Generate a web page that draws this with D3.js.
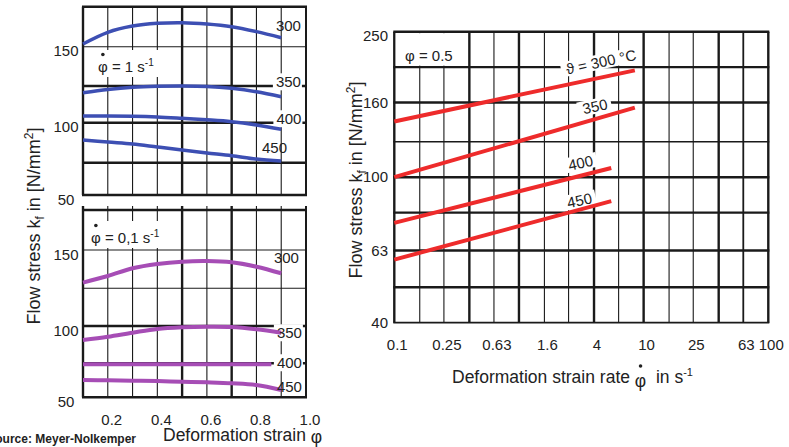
<!DOCTYPE html>
<html>
<head>
<meta charset="utf-8">
<script src="https://cdn.jsdelivr.net/npm/d3@7"></script>
<style>
  body { margin: 0; background: #fff; }
  svg { display: block; font-family: "Liberation Sans", Arial, sans-serif; }
</style>
</head>
<body>
<svg id="chart" width="789" height="447"></svg>
<script>
// ---- left panels: flow curves kf over strain phi ----
const strain = [0.1, 0.2, 0.3, 0.4, 0.5, 0.6, 0.7, 0.8, 0.9];
const strainGrid = [0.1, 0.2, 0.3, 0.4, 0.5, 0.6, 0.7, 0.8, 0.9, 1.0];
const strainLabels = [0.2, 0.4, 0.6, 0.8, 1.0];
const stressGrid = [50, 75, 100, 125, 150, 175];
const stressLabels = [50, 100, 150];
const temps = ["300", "350", "400", "450"];

// phi-dot = 1 1/s (blue)
const kfFast300 = [151.7, 159, 162.9, 164.6, 165, 164.2, 162.5, 159.4, 155.6];
const kfFast350 = [120.4, 122.6, 124.1, 124.8, 125, 124.7, 123.4, 121.1, 117.7];
const kfFast400 = [104.6, 104.6, 104.4, 103.9, 103, 102, 100.7, 98.6, 95.9];
const kfFast450 = [89.2, 87.9, 86.7, 84.8, 82.9, 81.1, 79.4, 77.3, 76.1];
const fastLabelAt = [[0.929, 162.9], [0.929, 127.5], [0.931, 102.5], [0.873, 84.2]];

// phi-dot = 0.1 1/s (purple)
const kfSlow300 = [128.7, 133, 138.1, 140.9, 142.4, 142.8, 142, 139.1, 134.8];
const kfSlow350 = [90.6, 92.8, 95.5, 98, 99.1, 99.5, 99.3, 97.8, 95.5];
const strainSlow400 = [0.1, 0.5, 0.86];
const kfSlow400 = [74.3, 74.3, 74.3];
const kfSlow450 = [62.7, 62.5, 62.2, 61.9, 61.5, 61, 60.3, 59, 55.4];
const slowLabelAt = [[0.921, 144.8], [0.933, 95.3], [0.933, 75.2], [0.933, 57.6]];

// ---- right panel: kf over strain rate at phi = 0.5 (red) ----
const rateGrid = [0.1, 0.16, 0.25, 0.4, 0.63, 1, 1.6, 2.5, 4, 6.3, 10, 16, 25, 40, 63, 100];
const rateLabels = [0.1, 0.25, 0.63, 1.6, 4, 10, 25, 63, 100];
const kfLogGrid = [40, 50, 63, 80, 100, 125, 160, 200, 250];
const kfLogLabels = [40, 63, 100, 160, 250];
const rateLine300 = [[0.1, 142], [8.5, 196]];
const rateLine350 = [[0.1, 100], [8.5, 155]];
const rateLine400 = [[0.1, 75], [5.5, 106]];
const rateLine450 = [[0.1, 59.5], [5.5, 86]];
const rateLabelText = ["\u03d1 = 300 \u00b0C", "350", "400", "450"];
const rateLabelAt = [[4.55, 206.6], [4.07, 156], [3.12, 109.4], [3.06, 86.4]];

const ink = "#222";
const gridInk = "#1a1a1a";
const svg = d3.select("#chart");

// ---------- left panels ----------
const xStrain = d3.scaleLinear().domain([0.1, 1.0]).range([83, 306]);

function flowPanel(cfg) {
    const y = d3.scaleLinear().domain(stressGrid).range(cfg.yRange);
    const g = svg.append("g");
    const gridG = g.append("g");
    const boxG = g.append("g");
    const curveG = g.append("g");
    const textG = g.append("g");

    gridG.selectAll("line.v")
        .data(strainGrid)
        .enter()
        .append("line")
        .attr("x1", d => xStrain(d))
        .attr("x2", d => xStrain(d))
        .attr("y1", y(175) - cfg.ext)
        .attr("y2", y(50))
        .attr("stroke", gridInk)
        .attr("stroke-width", d => [0.1, 0.5, 0.7].includes(d) ? 2.4 : (d === 1.0 ? 2 : 1.1));

    gridG.selectAll("line.h")
        .data(stressGrid)
        .enter()
        .append("line")
        .attr("x1", xStrain(0.1) - 1)
        .attr("x2", xStrain(1.0) + 1)
        .attr("y1", d => y(d))
        .attr("y2", d => y(d))
        .attr("stroke", gridInk)
        .attr("stroke-width", d => cfg.thickH.includes(d) ? 2.4 : 1.1);

    const line = d3.line()
        .x(d => xStrain(d[0]))
        .y(d => y(d[1]))
        .curve(d3.curveCatmullRom.alpha(0.5));

    curveG.selectAll("path")
        .data(cfg.series)
        .enter()
        .append("path")
        .attr("d", d => line(d))
        .attr("fill", "none")
        .attr("stroke", cfg.color)
        .attr("stroke-width", cfg.width);

    // curve labels
    temps.forEach((t, i) => {
        const p = cfg.labelAt[i];
        const txt = textG.append("text")
            .attr("x", xStrain(p[0]))
            .attr("y", y(p[1]))
            .attr("dy", "0.35em")
            .attr("text-anchor", "middle")
            .attr("font-size", 15)
            .attr("fill", ink)
            .text(t);
        if (cfg.boxed.includes(t)) {
            const b = txt.node().getBBox();
            boxG.append("rect")
                .attr("x", b.x - 3).attr("y", b.y)
                .attr("width", b.width + 4).attr("height", b.height)
                .attr("fill", "#fff");
        }
    });

    // y tick labels
    textG.selectAll("text.tick")
        .data(stressLabels)
        .enter()
        .append("text")
        .attr("x", 66)
        .attr("y", d => y(d) + 4.5)
        .attr("dy", "0.35em")
        .attr("text-anchor", "middle")
        .attr("font-size", 15)
        .attr("fill", ink)
        .text(d => d);

    // phi-dot annotation
    const ann = textG.append("text")
        .attr("x", cfg.annX)
        .attr("y", cfg.annY)
        .attr("font-size", 15)
        .attr("fill", ink);
    ann.append("tspan").text(cfg.annText);
    ann.append("tspan").attr("dy", -6).attr("font-size", 10).text("-1");
    const ab = ann.node().getBBox();
    boxG.append("rect")
        .attr("x", ab.x - 4).attr("y", ab.y - 7)
        .attr("width", ab.width + 8).attr("height", ab.height + 9)
        .attr("fill", "#fff");
    const ext = ann.node().getExtentOfChar(0);
    textG.append("circle")
        .attr("cx", ext.x + ext.width / 2)
        .attr("cy", cfg.annY - 17.5)
        .attr("r", 1.8)
        .attr("fill", ink);
    return y;
}

flowPanel({
    yRange: [195, 162.7, 122.7, 86, 46.7, 6.7],
    ext: 0,
    thickH: [50, 75, 100, 125, 175],
    series: [kfFast300, kfFast350, kfFast400, kfFast450].map(s => s.map((v, i) => [strain[i], v])),
    color: "#3d4fb3",
    width: 3.5,
    labelAt: fastLabelAt,
    boxed: ["350", "400"],
    annX: 98, annY: 72,
    annText: "\u03c6 = 1 s"
});

flowPanel({
    yRange: [397.3, 363.3, 326, 288.3, 250, 210],
    ext: 4,
    thickH: [50, 75, 100, 175],
    series: [
        kfSlow300.map((v, i) => [strain[i], v]),
        kfSlow350.map((v, i) => [strain[i], v]),
        kfSlow400.map((v, i) => [strainSlow400[i], v]),
        kfSlow450.map((v, i) => [strain[i], v])
    ],
    color: "#a64db5",
    width: 4,
    labelAt: slowLabelAt,
    boxed: ["350", "400"],
    annX: 91, annY: 243,
    annText: "\u03c6 = 0,1 s"
});

// x tick labels (bottom left)
svg.append("g").selectAll("text")
    .data(strainLabels)
    .enter()
    .append("text")
    .attr("x", d => xStrain(d) + 4)
    .attr("y", 425)
    .attr("text-anchor", "middle")
    .attr("font-size", 15)
    .attr("fill", ink)
    .text(d => d.toFixed(1));

// left axis titles
const leftX = svg.append("text")
    .attr("x", 163).attr("y", 441)
    .attr("font-size", 17.5).attr("fill", ink);
leftX.append("tspan").text("Deformation strain ");
leftX.append("tspan").attr("dy", 2).text("\u03c6");

function yTitle(x, y) {
    const t = svg.append("text")
        .attr("transform", `translate(${x},${y}) rotate(-90)`)
        .attr("text-anchor", "middle")
        .attr("font-size", 18)
        .attr("fill", ink);
    t.append("tspan").text("Flow stress k");
    t.append("tspan").attr("dy", 4).attr("font-size", 12).text("f");
    t.append("tspan").attr("dy", -4).text(" in [N/mm");
    t.append("tspan").attr("dy", -7).attr("font-size", 12).text("2");
    t.append("tspan").attr("dy", 7).text("]");
}
yTitle(40, 226);

svg.append("text")
    .attr("x", 136).attr("y", 443)
    .attr("text-anchor", "end")
    .attr("font-size", 12)
    .attr("font-weight", "bold")
    .attr("fill", ink)
    .text("Source: Meyer-Nolkemper");

// ---------- right panel ----------
const xRate = d3.scaleLog().domain([0.1, 100]).range([394.3, 768.3]);
const yKf = d3.scaleLog().domain([40, 250]).range([322.7, 31.7]);

const rg = svg.append("g");
const rGrid = rg.append("g");
const rBox = rg.append("g");
const rLines = rg.append("g");
const rText = rg.append("g");

const thickRate = [0.1, 0.4, 1, 4, 10, 40, 100];
rGrid.selectAll("line.v")
    .data(rateGrid)
    .enter()
    .append("line")
    .attr("x1", d => xRate(d))
    .attr("x2", d => xRate(d))
    .attr("y1", yKf(250))
    .attr("y2", yKf(40))
    .attr("stroke", gridInk)
    .attr("stroke-width", d => thickRate.includes(d) ? 2.4 : (d === 63 ? 1.8 : 1.1));

rGrid.selectAll("line.h")
    .data(kfLogGrid)
    .enter()
    .append("line")
    .attr("x1", xRate(0.1) - 1)
    .attr("x2", xRate(100) + 1)
    .attr("y1", d => yKf(d))
    .attr("y2", d => yKf(d))
    .attr("stroke", gridInk)
    .attr("stroke-width", d => d === 125 ? 1.5 : (d === 40 ? 1.8 : 2.4));

// clear top-left cell for the phi label
rBox.append("rect")
    .attr("x", xRate(0.1) + 1.5)
    .attr("y", yKf(250) + 1.5)
    .attr("width", xRate(0.4) - xRate(0.1) - 3)
    .attr("height", yKf(200) - yKf(250) - 3)
    .attr("fill", "#fff");

const rateLine = d3.line().x(d => xRate(d[0])).y(d => yKf(d[1]));
rLines.selectAll("path")
    .data([rateLine300, rateLine350, rateLine400, rateLine450])
    .enter()
    .append("path")
    .attr("d", d => rateLine(d))
    .attr("fill", "none")
    .attr("stroke", "#ee2b2b")
    .attr("stroke-width", 4);

rateLabelText.forEach((t, i) => {
    const p = rateLabelAt[i];
    const tr = `translate(${xRate(p[0])},${yKf(p[1])}) rotate(-12)`;
    const txt = rText.append("text")
        .attr("transform", tr)
        .attr("dy", "0.35em")
        .attr("text-anchor", "middle")
        .attr("font-size", 15)
        .attr("fill", ink)
        .text(t);
    const b = txt.node().getBBox();
    rBox.append("rect")
        .attr("transform", tr)
        .attr("x", b.x - 5).attr("y", b.y + 1)
        .attr("width", b.width + 9).attr("height", b.height - 2)
        .attr("fill", "#fff");
});

rText.append("text")
    .attr("x", 405).attr("y", 61)
    .attr("font-size", 15).attr("fill", ink)
    .text("\u03c6 = 0.5");

rText.selectAll("text.ytick")
    .data(kfLogLabels)
    .enter()
    .append("text")
    .attr("x", 388)
    .attr("y", d => Math.max(yKf(d), 36))
    .attr("dy", "0.35em")
    .attr("text-anchor", "end")
    .attr("font-size", 15)
    .attr("fill", ink)
    .text(d => d);

rText.selectAll("text.xtick")
    .data(rateLabels)
    .enter()
    .append("text")
    .attr("x", d => xRate(d) + 3)
    .attr("y", 350)
    .attr("text-anchor", "middle")
    .attr("font-size", 15)
    .attr("fill", ink)
    .text(d => d);

const rx = svg.append("text")
    .attr("x", 452).attr("y", 383)
    .attr("font-size", 17.5).attr("fill", ink);
rx.append("tspan").text("Deformation strain rate ");
rx.append("tspan").attr("dy", 4).text("\u03c6");
rx.append("tspan").attr("dy", -4).text("\u00a0 in s");
rx.append("tspan").attr("dy", -7).attr("font-size", 11).text("-1");
const phiIdx = "Deformation strain rate ".length;
const pe = rx.node().getExtentOfChar(phiIdx);
svg.append("circle")
    .attr("cx", pe.x + pe.width / 2)
    .attr("cy", 366)
    .attr("r", 1.8)
    .attr("fill", ink);

yTitle(362, 180);
</script>
</body>
</html>
